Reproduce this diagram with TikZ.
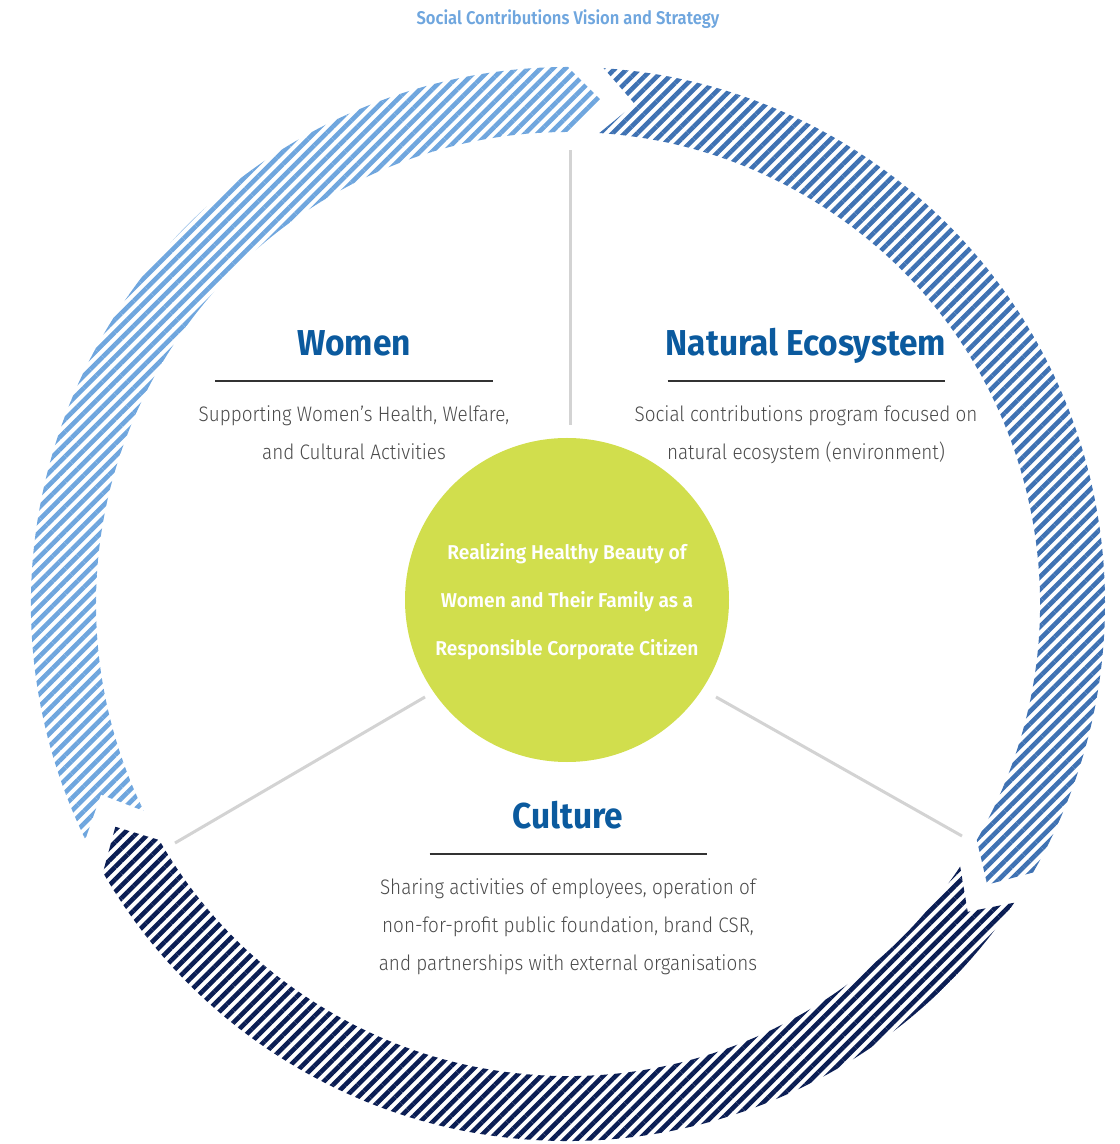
\documentclass[tikz,border=0pt]{standalone}
\usepackage{fontspec}
\setmainfont{Fira Sans}
\newfontfamily\lightfont{Fira Sans Light}[FakeStretch=0.9]
\newfontfamily\semifont{Fira Sans SemiBold}[FakeStretch=0.9]
\newfontfamily\hubfont{Fira Sans SemiBold}[FakeStretch=0.96]
\newfontfamily\headfont{Fira Sans}[FakeStretch=0.93]
\usetikzlibrary{patterns.meta}

\definecolor{ringlight}{HTML}{6FA6DE}
\definecolor{ringmid}{HTML}{3F72B3}
\definecolor{ringdark}{HTML}{0B1E54}
\definecolor{headblue}{HTML}{0B5A9E}
\definecolor{hubgreen}{HTML}{D1DE4D}
\definecolor{bodygray}{HTML}{4A4A4A}
\definecolor{spokegray}{HTML}{D3D3D3}

\begin{document}
\begin{tikzpicture}[
    x=0.5pt, y=0.5pt,
    band/.style={pattern={Lines[angle=45, distance=4.4pt, line width=2.3pt]}},
    spoke/.style={spokegray, line width=1.5pt},
    rule/.style={black!80, line width=0.7pt},
    heading/.style={headblue, anchor=base, font=\headfont\bfseries\fontsize{18}{20}\selectfont},
    body/.style={bodygray, anchor=base, align=center,
                 font=\lightfont\fontsize{10.5}{19}\selectfont},
    hub/.style={circle, fill=hubgreen, minimum size=162pt, inner sep=0pt},
    hubtext/.style={white, anchor=base, align=center,
                    font=\hubfont\fontsize{10}{24}\selectfont}
]
\useasboundingbox (-568,-540) rectangle (551,604);

% ---------- title ----------
\node[ringlight, anchor=base, font=\semifont\fontsize{9.2}{10}\selectfont]
  (title) at (0,579) {Social Contributions Vision and Strategy};

% ---------- ring of three arrows, clockwise ----------
\foreach \a/\b/\c in {206/90/ringlight, 86.2/-30/ringmid, -33.8/-150/ringdark}{
  \pgfmathsetmacro{\tip}{\b-3.8}
  \pgfmathsetmacro{\notch}{\a-3.8}
  \fill[band, pattern color=\c]
    (\a:537) arc[start angle=\a, end angle=\b, radius=537]
    -- (\tip:504.5) -- (\b:472)
    arc[start angle=\b, end angle=\a, radius=472]
    -- (\notch:504.5) -- cycle;
}

% ---------- spokes ----------
\coordinate (s1a) at (2,179);     \coordinate (s1b) at (2,454);
\coordinate (s2a) at (-143,-93);  \coordinate (s2b) at (-393,-239);
\coordinate (s3a) at (148,-93);   \coordinate (s3b) at (394,-232);
\foreach \i in {1,2,3}
  \draw[spoke] (s\i a) -- (s\i b);

% ---------- centre ----------
\node[hub] (hub) at (-1,4) {};
\node[hubtext] (mission) at (-1,-51.5)
  {Realizing Healthy Beauty of\\Women and Their Family as a\\Responsible Corporate Citizen};

% ---------- women ----------
\node[heading] (women) at (-214,248.5) {Women};
\draw[rule] ([shift={(-138.5,-25.5)}]women.base) -- ++(277,0);
\node[body] (womentext) at (-214,144)
  {Supporting Women’s Health, Welfare,\\and Cultural Activities};

% ---------- natural ecosystem ----------
\node[heading] (nature) at (238,248.5) {Natural Ecosystem};
\draw[rule] ([shift={(-138.5,-25.5)}]nature.base) -- ++(277,0);
\node[body] (naturetext) at (238,144)
  {Social contributions program focused on\\natural ecosystem (environment)};

% ---------- culture ----------
\node[heading] (culture) at (0,-224.5) {Culture};
\draw[rule] ([shift={(-138.5,-25.5)}]culture.base) -- ++(277,0);
\node[body] (culturetext) at (0,-366)
  {Sharing activities of employees, operation of\\non-for-profit public foundation, brand CSR,\\and partnerships with external organisations};

\end{tikzpicture}
\end{document}
